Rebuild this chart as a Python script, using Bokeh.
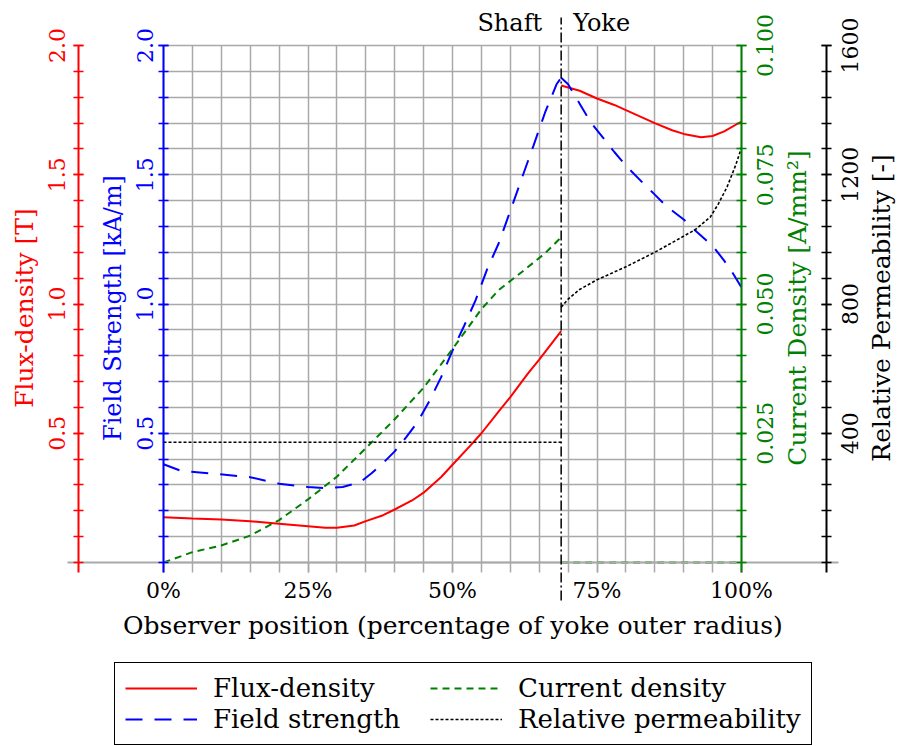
import math
from bokeh.plotting import figure
from bokeh.models import (Range1d, LinearAxis, FixedTicker, PrintfTickFormatter,
                          Grid, Legend, LegendItem, Label, Arrow)
from bokeh.embed import file_html
from bokeh.resources import INLINE

# ---------------- data ----------------
boundary = 68.8  # shaft / yoke boundary, % of yoke outer radius

flux_shaft_x = [0, 5, 10, 15, 20, 25, 28, 30, 33, 35, 38, 40, 43, 45, 48, 50, 53, 55, 58, 60, 63, 65, 68.8]
flux_shaft_B = [0.175, 0.170, 0.166, 0.160, 0.150, 0.140, 0.134, 0.134, 0.143, 0.160, 0.183, 0.205,
                0.240, 0.270, 0.330, 0.378, 0.450, 0.500, 0.585, 0.640, 0.730, 0.785, 0.895]
flux_yoke_x = [68.8, 72, 75, 78, 80, 85, 88, 90, 93, 95, 97, 100]
flux_yoke_B = [1.845, 1.825, 1.795, 1.770, 1.750, 1.700, 1.672, 1.658, 1.645, 1.650, 1.668, 1.706]

field_shaft_x = [0, 3, 8, 15, 20, 25, 28, 31, 34, 36, 38, 40, 42, 44, 46, 48, 50, 52, 54, 56, 58, 60,
                 62, 64, 66, 68, 68.8]
field_shaft_H = [0.380, 0.355, 0.345, 0.330, 0.305, 0.292, 0.288, 0.292, 0.310, 0.345, 0.385, 0.430,
                 0.485, 0.545, 0.625, 0.715, 0.820, 0.915, 1.015, 1.135, 1.235, 1.360, 1.487, 1.612,
                 1.740, 1.850, 1.875]
field_yoke_x = [68.8, 70, 72, 74, 76, 78, 80, 83, 85, 87, 90, 92, 95, 97, 98.4, 100]
field_yoke_H = [1.875, 1.850, 1.775, 1.700, 1.645, 1.588, 1.535, 1.467, 1.423, 1.378, 1.327, 1.284,
                1.225, 1.168, 1.123, 1.064]

current_shaft_x = [0, 5, 10, 15, 20, 25, 30, 35, 40, 45, 50, 55, 58, 62, 66, 68.8]
current_shaft_J = [0.0, 0.0020, 0.0033, 0.0052, 0.0082, 0.0122, 0.0166, 0.0221, 0.0277, 0.0338,
                   0.0413, 0.0490, 0.0527, 0.0562, 0.0598, 0.0629]
current_yoke_x = [68.8, 100]
current_yoke_J = [0.0, 0.0]

perm_shaft_x = [0, 68.8]
perm_shaft_mu = [372, 372]
perm_yoke_x = [68.8, 70, 72, 75, 80, 85, 90, 92, 94.6, 96, 97.5, 99, 100]
perm_yoke_mu = [790, 815, 845, 875, 915, 960, 1010, 1030, 1069, 1110, 1162, 1230, 1284]

x_ticks = [0, 25, 50, 75, 100]
x_minor = list(range(0, 101, 5))
flux_lim = (0.0, 2.0)
flux_ticks = [0.5, 1.0, 1.5, 2.0]
flux_tick_labels = ["0.5", "1.0", "1.5", "2.0"]
flux_minor = [i / 10 for i in range(0, 21)]
field_lim = (0.0, 2.0)
field_ticks = [0.5, 1.0, 1.5, 2.0]
field_tick_labels = ["0.5", "1.0", "1.5", "2.0"]
field_minor = [i / 10 for i in range(0, 21)]
current_lim = (0.0, 0.1)
current_ticks = [0.025, 0.050, 0.075, 0.100]
current_tick_labels = ["0.025", "0.050", "0.075", "0.100"]
current_minor = [i * 0.005 for i in range(0, 21)]
perm_lim = (0.0, 1600.0)
perm_ticks = [400, 800, 1200, 1600]
perm_tick_labels = ["400", "800", "1200", "1600"]
perm_minor = [i * 80 for i in range(0, 21)]

labels = ["Flux-density", "Field strength", "Current density", "Relative permeability"]

# ---------------- layout (pixels) ----------------
W, H = 902, 746
FL, FR, FT, FB = 163, 741, 45, 562          # data area edges
AX_BOTTOM_PX = 572                          # y axes run a little below the data area
RED_AX_PX, BLACK_AX_PX = 78, 826            # outer axes
XSCALE = (FR - FL) / 100.0


def xr_px(px):
    return (px - FL) / XSCALE


def yrange(lim):
    lo, hi = lim
    s = (hi - lo) / (FB - FT)
    return Range1d(lo - (H - FB) * s, hi + FT * s)


def y_px(lim, px):
    lo, hi = lim
    return lo + (FB - px) * (hi - lo) / (FB - FT)


FONT = "DejaVu Serif"
TICK_FS = "22px"
LAB_FS = "25px"
LEG_FS = "26px"
RED, BLUE, GREEN, BLACK = "#ff0000", "#0000ff", "#008000", "#000000"
GRIDC = "#a9a9a9"

p = figure(width=W, height=H, x_range=Range1d(xr_px(0), xr_px(W)), y_range=yrange(flux_lim),
           output_backend="svg", toolbar_location=None,
           x_axis_location=None, y_axis_location=None, min_border=0,
           outline_line_color=None, background_fill_color="white", border_fill_color="white")
p.extra_y_ranges = {"H": yrange(field_lim), "J": yrange(current_lim), "mu": yrange(perm_lim)}
p.grid.visible = False

# ---------------- grid ----------------
if "cross_bounds" in Grid.properties():
    p.add_layout(Grid(dimension=0, ticker=FixedTicker(ticks=x_minor), cross_bounds=flux_lim,
                      grid_line_color=GRIDC, grid_line_width=1.5))
    p.add_layout(Grid(dimension=1, ticker=FixedTicker(ticks=flux_minor), cross_bounds=(0, 100),
                      grid_line_color=GRIDC, grid_line_width=1.5))
else:
    p.segment(x0=x_minor, y0=[flux_lim[0]] * len(x_minor), x1=x_minor, y1=[flux_lim[1]] * len(x_minor),
              line_color=GRIDC, line_width=1.5, level="underlay")
    p.segment(x0=[0] * len(flux_minor), y0=flux_minor, x1=[100] * len(flux_minor), y1=flux_minor,
              line_color=GRIDC, line_width=1.5, level="underlay")

# ---------------- x axis ----------------
xa = LinearAxis(ticker=FixedTicker(ticks=x_ticks, minor_ticks=x_minor), fixed_location=flux_lim[0],
                bounds=(xr_px(67), xr_px(838)),
                formatter=PrintfTickFormatter(format="%d%%"),
                axis_label="Observer position (percentage of yoke outer radius)")
xa.axis_line_color = GRIDC
xa.axis_line_width = 2
xa.major_tick_line_color = GRIDC
xa.minor_tick_line_color = GRIDC
xa.major_tick_line_width = 1.5
xa.minor_tick_line_width = 1.5
xa.major_tick_in = 0
xa.major_tick_out = 10
xa.minor_tick_in = 0
xa.minor_tick_out = 10
xa.major_label_standoff = 5
xa.major_label_text_font = FONT
xa.major_label_text_font_size = TICK_FS
xa.major_label_text_color = BLACK
xa.axis_label_text_font = FONT
xa.axis_label_text_font_size = LAB_FS
xa.axis_label_text_font_style = "normal"
xa.axis_label_text_color = BLACK
xa.axis_label_standoff = 5
p.add_layout(xa, "below")


def yaxis(range_name, color, ticks, minor, xloc, lim, side):
    ax = LinearAxis(y_range_name=range_name, fixed_location=xloc,
                    bounds=(y_px(lim, AX_BOTTOM_PX), lim[1]),
                    ticker=FixedTicker(ticks=ticks, minor_ticks=minor))
    ax.axis_line_color = color
    ax.axis_line_width = 2
    ax.major_tick_line_color = color
    ax.minor_tick_line_color = color
    ax.major_tick_line_width = 1.5
    ax.minor_tick_line_width = 1.5
    ax.major_tick_in = 5
    ax.major_tick_out = 5
    ax.minor_tick_in = 5
    ax.minor_tick_out = 5
    ax.major_label_text_font_size = "0px"
    ax.major_label_text_alpha = 0
    p.add_layout(ax, side)


yaxis("H", BLUE, field_ticks, field_minor, 0, field_lim, "left")
yaxis("default", RED, flux_ticks, flux_minor, xr_px(RED_AX_PX), flux_lim, "left")
yaxis("J", GREEN, current_ticks, current_minor, 100, current_lim, "right")
yaxis("mu", BLACK, perm_ticks, perm_minor, xr_px(BLACK_AX_PX), perm_lim, "right")


def tick_labels(xpos, xoff, range_name, ticks, texts, color):
    for t, s in zip(ticks, texts):
        p.add_layout(Label(x=xpos, y=t, x_offset=xoff, y_range_name=range_name, text=s,
                           angle=math.pi / 2, text_align="center", text_baseline="middle",
                           text_font=FONT, text_font_size=TICK_FS, text_color=color))


def axis_title(xpos, xoff, range_name, lim, text, color, size=LAB_FS):
    p.add_layout(Label(x=xpos, y=(lim[0] + lim[1]) / 2, x_offset=xoff, y_offset=-4,
                       y_range_name=range_name, text=text,
                       angle=math.pi / 2, text_align="center", text_baseline="middle",
                       text_font=FONT, text_font_size=size, text_color=color))


tick_labels(0, -107, "default", flux_ticks, flux_tick_labels, RED)
tick_labels(0, -19, "H", field_ticks, field_tick_labels, BLUE)
tick_labels(100, 23, "J", current_ticks, current_tick_labels, GREEN)
tick_labels(100, 108, "mu", perm_ticks, perm_tick_labels, BLACK)
axis_title(0, -139, "default", flux_lim, "Flux-density [T]", RED)
axis_title(0, -51, "H", field_lim, "Field Strength [kA/m]", BLUE, "24px")
axis_title(100, 56, "J", current_lim, "Current Density [A/mm²]", GREEN)
axis_title(100, 140, "mu", perm_lim, "Relative Permeability [-]", BLACK)

# ---------------- series ----------------
r_flux = p.line(flux_shaft_x, flux_shaft_B, line_color=RED, line_width=2)
p.line(flux_yoke_x, flux_yoke_B, line_color=RED, line_width=2)
r_field = p.line(field_shaft_x, field_shaft_H, y_range_name="H", line_color=BLUE, line_width=2,
                 line_dash="17 12")
p.line(field_yoke_x, field_yoke_H, y_range_name="H", line_color=BLUE, line_width=2, line_dash="17 12")
r_cur = p.line(current_shaft_x, current_shaft_J, y_range_name="J", line_color=GREEN, line_width=2,
               line_dash="7 5")
p.line(current_yoke_x, current_yoke_J, y_range_name="J", line_color=GREEN, line_width=2, line_dash="7 5")
r_perm = p.line(perm_shaft_x, perm_shaft_mu, y_range_name="mu", line_color=BLACK, line_width=1.6,
                line_dash="3 2")
p.line(perm_yoke_x, perm_yoke_mu, y_range_name="mu", line_color=BLACK, line_width=1.6, line_dash="3 2")

# ---------------- shaft / yoke divider ----------------
p.add_layout(Arrow(x_start=boundary, y_start=y_px(flux_lim, 600), x_end=boundary, y_end=y_px(flux_lim, 17),
                   start=None, end=None, line_color=BLACK, line_width=1.5, line_dash="10 3 2 3"))
p.add_layout(Label(x=boundary, y=flux_lim[1], x_offset=-19, y_offset=23, text="Shaft", text_align="right",
                   text_baseline="middle", text_font=FONT, text_font_size="24px", text_color=BLACK))
p.add_layout(Label(x=boundary, y=flux_lim[1], x_offset=12, y_offset=23, text="Yoke", text_align="left",
                   text_baseline="middle", text_font=FONT, text_font_size="24px", text_color=BLACK))

# ---------------- legend ----------------
legend = Legend(items=[LegendItem(label=labels[0], renderers=[r_flux]),
                       LegendItem(label=labels[1], renderers=[r_field]),
                       LegendItem(label=labels[2], renderers=[r_cur]),
                       LegendItem(label=labels[3], renderers=[r_perm])],
                nrows=2, orientation="vertical", location=(114, 1),
                label_text_font=FONT, label_text_font_size=LEG_FS, label_text_color=BLACK,
                glyph_width=72, glyph_height=20, label_standoff=16, label_width=216,
                spacing=1, padding=10, margin=0,
                border_line_color=BLACK, border_line_width=1.5, border_line_alpha=1.0,
                background_fill_color="white", background_fill_alpha=1.0)
p.add_layout(legend)

open("out.html", "w").write(file_html(p, INLINE))
